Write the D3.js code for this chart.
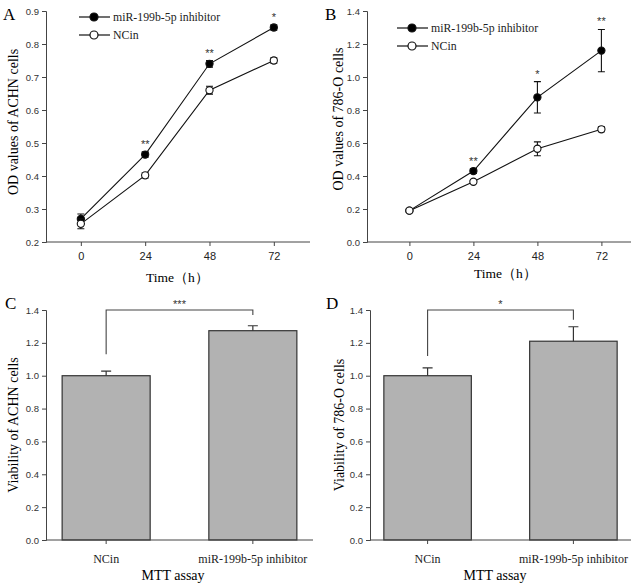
<!DOCTYPE html>
<html><head><meta charset="utf-8">
<script src="https://cdn.jsdelivr.net/npm/d3@7"></script>
<style>body{margin:0;background:#fff}svg{display:block}</style>
</head><body>
<svg id="c" width="638" height="587"></svg>
<script>
// ---- data ----
const timePoints = [0, 24, 48, 72];
const seriesNames = ["miR-199b-5p inhibitor", "NCin"];
// Panel A (ACHN)
const achnInhibitor = [0.270, 0.465, 0.740, 0.850];
const achnInhibitorErr = [0.015, 0.008, 0.010, 0.008];
const achnNC = [0.255, 0.402, 0.660, 0.750];
const achnNCErr = [0.015, 0.008, 0.012, 0.008];
const achnStars = ["", "**", "**", "*"];
// Panel B (786-O)
const o786Inhibitor = [0.190, 0.430, 0.877, 1.160];
const o786InhibitorErr = [0.010, 0.015, 0.095, 0.128];
const o786NC = [0.190, 0.365, 0.565, 0.683];
const o786NCErr = [0.010, 0.008, 0.042, 0.015];
const o786Stars = ["", "**", "*", "**"];
// Panel C/D (MTT)
const barCategories = ["NCin", "miR-199b-5p inhibitor"];
const achnViability = [1.00, 1.274];
const achnViabilityErr = [0.028, 0.030];
const o786Viability = [1.00, 1.21];
const o786ViabilityErr = [0.048, 0.088];
const achnSig = "***";
const o786Sig = "*";
const ticksA = [0.2, 0.3, 0.4, 0.5, 0.6, 0.7, 0.8, 0.9];
const ticksB = [0.0, 0.2, 0.4, 0.6, 0.8, 1.0, 1.2, 1.4];
const ticksCD = [0.0, 0.2, 0.4, 0.6, 0.8, 1.0, 1.2, 1.4];

const svg = d3.select("#c");
const SANS = "'Liberation Sans', Arial, sans-serif";
const SERIF = "'Liberation Serif', 'Times New Roman', serif";
const AX = "#444";

function yAxis(g, y, ticks, x0, fmt) {
  const a = g.append("g").attr("transform", `translate(${x0},0)`)
    .call(d3.axisLeft(y).tickValues(ticks).tickFormat(d3.format(fmt)).tickSize(4).tickPadding(3));
  a.select(".domain").attr("stroke", AX);
  a.selectAll(".tick line").attr("stroke", AX);
  a.selectAll("text").attr("font-family", SANS).attr("font-size", 9.5).attr("fill", "#333");
  return a;
}

function linePanel(o) {
  const g = svg.append("g");
  const x = d3.scaleLinear().domain(o.xDom).range(o.xRange);
  const y = d3.scaleLinear().domain(o.yDom).range(o.yRange);
  yAxis(g, y, o.yTicks, o.xRange[0], ".1f");
  const xa = g.append("g").attr("transform", `translate(0,${o.yRange[0]})`)
    .call(d3.axisBottom(x).tickValues(timePoints).tickFormat(d3.format("d")).tickSize(4).tickPadding(6));
  xa.select(".domain").attr("d", `M${o.xRange[0]},0H${o.xRange[1]}`).attr("stroke", AX);
  xa.selectAll(".tick line").attr("stroke", AX);
  xa.selectAll("text").attr("font-family", SANS).attr("font-size", 11).attr("fill", "#222");
  // titles
  g.append("text").attr("x", (x(0) + x(72)) / 2).attr("y", o.xTitleY).attr("text-anchor", "middle")
    .attr("font-family", SERIF).attr("font-size", 13.5).text("Time（h）");
  g.append("text").attr("transform", `translate(${o.yTitleX},${o.yTitleC}) rotate(-90)`)
    .attr("text-anchor", "middle").attr("font-family", SERIF).attr("font-size", 14).text(o.yTitle);
  g.append("text").attr("x", o.letterX).attr("y", 20).attr("font-family", SERIF).attr("font-size", 17).text(o.letter);

  const series = [
    {vals: o.inh, err: o.inhErr, fill: "#000"},
    {vals: o.nc, err: o.ncErr, fill: "#fff"}
  ];
  const line = d3.line().x((d, i) => x(timePoints[i])).y(d => y(d));
  series.forEach(s => {
    g.append("path").attr("d", line(s.vals)).attr("fill", "none").attr("stroke", "#111").attr("stroke-width", 1.1);
  });
  series.forEach(s => {
    s.vals.forEach((v, i) => {
      const cx = x(timePoints[i]);
      const t = y(v + s.err[i]), b = y(v - s.err[i]);
      g.append("path").attr("d", `M${cx},${t}V${b}M${cx - 3.5},${t}H${cx + 3.5}M${cx - 3.5},${b}H${cx + 3.5}`)
        .attr("stroke", "#111").attr("stroke-width", 1.1).attr("fill", "none");
    });
    g.selectAll(null).data(s.vals).enter().append("circle")
      .attr("cx", (d, i) => x(timePoints[i])).attr("cy", d => y(d)).attr("r", 3.6)
      .attr("fill", s.fill).attr("stroke", "#111").attr("stroke-width", 1.1);
  });
  // stars
  g.selectAll(null).data(o.stars).enter().append("text")
    .attr("x", (d, i) => x(timePoints[i])).attr("y", (d, i) => y(o.inh[i] + o.inhErr[i]) - 4)
    .attr("text-anchor", "middle").attr("font-family", SANS).attr("font-size", 11).attr("fill", "#333").text(d => d);
  // legend
  seriesNames.forEach((n, k) => {
    const ly = o.legY + k * 18;
    g.append("line").attr("x1", o.legX).attr("x2", o.legX + 31).attr("y1", ly).attr("y2", ly).attr("stroke", "#111").attr("stroke-width", 1.2);
    g.append("circle").attr("cx", o.legX + 15).attr("cy", ly).attr("r", 4).attr("fill", series[k].fill).attr("stroke", "#111").attr("stroke-width", 1.2);
    g.append("text").attr("x", o.legX + 34).attr("y", ly + 4).attr("font-family", SERIF).attr("font-size", 11.8).attr("fill", "#222").text(n);
  });
}

function barPanel(o) {
  const g = svg.append("g");
  const x = d3.scaleBand().domain(barCategories).range(o.xRange).paddingInner(0.4).paddingOuter(o.po);
  const y = d3.scaleLinear().domain([0, 1.4]).range(o.yRange);
  g.selectAll(null).data(o.vals).enter().append("rect")
    .attr("x", (d, i) => x(barCategories[i])).attr("width", x.bandwidth())
    .attr("y", d => y(d)).attr("height", d => y(0) - y(d))
    .attr("fill", "#b2b2b2").attr("stroke", "#333").attr("stroke-width", 1.2);
  o.vals.forEach((v, i) => {
    const cx = x(barCategories[i]) + x.bandwidth() / 2;
    g.append("path").attr("d", `M${cx},${y(v)}V${y(v + o.err[i])}M${cx - 5},${y(v + o.err[i])}H${cx + 5}`)
      .attr("stroke", "#333").attr("stroke-width", 1.2).attr("fill", "none");
  });
  yAxis(g, y, ticksCD, o.xRange[0], ".1f");
  const xa = g.append("g").attr("transform", `translate(0,${o.yRange[0]})`)
    .call(d3.axisBottom(x).tickSize(4).tickPadding(10));
  xa.select(".domain").attr("d", `M${o.xRange[0]},0H${o.xRange[1]}`).attr("stroke", AX);
  xa.selectAll(".tick line").attr("stroke", AX);
  xa.selectAll("text").attr("font-family", SERIF).attr("font-size", 12).attr("fill", "#222");
  // bracket
  const c0 = x(barCategories[0]) + x.bandwidth() / 2, c1 = x(barCategories[1]) + x.bandwidth() / 2;
  const by = y(o.bracketY);
  g.append("path").attr("d", `M${c0},${y(o.bracketL)}V${by}H${c1}V${y(o.bracketR)}`)
    .attr("fill", "none").attr("stroke", "#444").attr("stroke-width", 1.1);
  g.append("text").attr("x", (c0 + c1) / 2).attr("y", by - 2).attr("text-anchor", "middle")
    .attr("font-family", SANS).attr("font-size", 11).attr("fill", "#333").text(o.sig);
  g.append("text").attr("x", o.xTitleX).attr("y", 580).attr("text-anchor", "middle")
    .attr("font-family", SERIF).attr("font-size", 14).text("MTT assay");
  g.append("text").attr("transform", `translate(${o.yTitleX},${(o.yRange[0] + o.yRange[1]) / 2}) rotate(-90)`)
    .attr("text-anchor", "middle").attr("font-family", SERIF).attr("font-size", 14).text(o.yTitle);
  g.append("text").attr("x", o.letterX).attr("y", 309).attr("font-family", SERIF).attr("font-size", 17).text(o.letter);
}

linePanel({letter: "A", letterX: 3, xDom: [-13, 85.5], xRange: [46, 310], yDom: [0.2, 0.9], yRange: [242, 11],
  yTicks: ticksA, inh: achnInhibitor, inhErr: achnInhibitorErr, nc: achnNC, ncErr: achnNCErr, stars: achnStars,
  xTitleY: 282, yTitleX: 18, yTitleC: 122, yTitle: "OD values of ACHN cells", legX: 79, legY: 17});
linePanel({letter: "B", letterX: 325, xDom: [-15.9, 83.1], xRange: [367, 631], yDom: [0, 1.4], yRange: [242, 11],
  yTicks: ticksB, inh: o786Inhibitor, inhErr: o786InhibitorErr, nc: o786NC, ncErr: o786NCErr, stars: o786Stars,
  xTitleY: 278, yTitleX: 343, yTitleC: 119, yTitle: "OD values of 786-O cells", legX: 397, legY: 28});
barPanel({letter: "C", letterX: 5, xRange: [46, 313], po: 0.11, yRange: [540, 310], vals: achnViability, err: achnViabilityErr,
  bracketY: 1.4, bracketL: 1.13, bracketR: 1.37, sig: achnSig, xTitleX: 173, yTitleX: 18, yTitle: "Viability of ACHN cells"});
barPanel({letter: "D", letterX: 326, xRange: [370, 631], po: 0.095, yRange: [540, 310], vals: o786Viability, err: o786ViabilityErr,
  bracketY: 1.4, bracketL: 1.12, bracketR: 1.34, sig: o786Sig, xTitleX: 495, yTitleX: 344, yTitle: "Viability of 786-O cells"});
</script>
</body></html>
